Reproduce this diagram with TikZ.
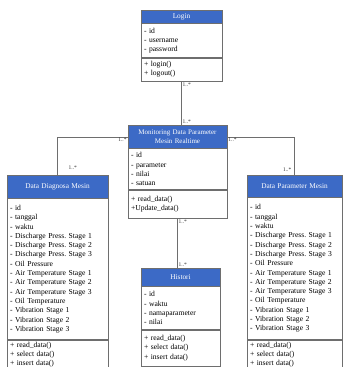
\documentclass[tikz,border=0pt]{standalone}
\usepackage{fontspec}
\setmainfont{Liberation Serif}
\usetikzlibrary{positioning}
\definecolor{umlblue}{RGB}{60,106,198}
\definecolor{boxline}{RGB}{110,110,110}

\begin{document}
\frenchspacing
\begin{tikzpicture}[x=1pt,y=-1pt,
 classhead/.style={draw=boxline, fill=umlblue, text=white, align=center, inner xsep=3pt, inner ysep=1pt, anchor=north, font=\fontsize{7.3}{8.5}\selectfont},
 classbody/.style={draw=boxline, fill=white, align=left, inner xsep=3pt, inner ysep=2pt, font=\fontsize{7.6}{9.3}\selectfont},
 mult/.style={font=\fontsize{5.5}{6}\selectfont, inner sep=1pt, text=black!80}]
 \useasboundingbox (0,0) rectangle (343,367);

 % Login
 \node[classhead, text width=75pt, minimum height=13pt] (loginh) at (181.5,10) {Login};
 \node[classbody, text width=75pt, minimum height=34pt, below=0pt of loginh] (logina) {- id\\- username\\- password};
 \node[classbody, text width=75pt, minimum height=23pt, below=0pt of logina] (loginm) {+ login()\\+ logout()};

 % Monitoring
 \node[classhead, text width=93pt, minimum height=23pt, font=\fontsize{7}{8.5}\selectfont] (monh) at (177.5,125) {Monitoring Data Parameter\\Mesin Realtime};
 \node[classbody, text width=93pt, minimum height=41pt, below=0pt of monh] (mona) {- id\\- parameter\\- nilai\\- satuan};
 \node[classbody, text width=93pt, minimum height=28pt, below=0pt of mona] (monm) {+ read\_data()\\+Update\_data()};

 % Data Diagnosa Mesin
 \node[classhead, text width=95pt, minimum height=23pt] (diagh) at (57.5,175) {Data Diagnosa Mesin};
 \node[classbody, text width=95pt, minimum height=141pt, below=0pt of diagh] (diaga) {- id\\- tanggal\\- waktu\\- Discharge Press. Stage 1\\- Discharge Press. Stage 2\\- Discharge Press. Stage 3\\- Oil Pressure\\- Air Temperature Stage 1\\- Air Temperature Stage 2\\- Air Temperature Stage 3\\- Oil Temperature\\- Vibration Stage 1\\- Vibration Stage 2\\- Vibration Stage 3};
 \node[classbody, text width=95pt, minimum height=27pt, below=0pt of diaga] (diagm) {+ read\_data()\\+ select data()\\+ insert data()};

 % Data Parameter Mesin
 \node[classhead, text width=89pt, minimum height=22pt] (paramh) at (294.5,175) {Data Parameter Mesin};
 \node[classbody, text width=89pt, minimum height=142pt, below=0pt of paramh] (parama) {- id\\- tanggal\\- waktu\\- Discharge Press. Stage 1\\- Discharge Press. Stage 2\\- Discharge Press. Stage 3\\- Oil Pressure\\- Air Temperature Stage 1\\- Air Temperature Stage 2\\- Air Temperature Stage 3\\- Oil Temperature\\- Vibration Stage 1\\- Vibration Stage 2\\- Vibration Stage 3};
 \node[classbody, text width=89pt, minimum height=27pt, below=0pt of parama] (paramm) {+ read\_data()\\+ select data()\\+ insert data()};

 % Histori
 \node[classhead, text width=73pt, minimum height=18pt] (histh) at (180.5,268) {Histori};
 \node[classbody, text width=73pt, minimum height=43pt, below=0pt of histh] (hista) {- id\\- waktu\\- namaparameter\\- nilai};
 \node[classbody, text width=73pt, minimum height=36pt, below=0pt of hista] (histm) {+ read\_data()\\+ select data()\\+ insert data()};

 % connectors
 \draw[boxline] (loginm.south) -- (loginm.south |- monh.north);
 \draw[boxline] (monh.west) -| (diagh.north);
 \draw[boxline] (monh.east) -| (paramh.north);
 \draw[boxline] (monm.south) -- (monm.south |- histh.north);

 \node[mult, below right] (m1) at (loginm.south) {1..*};
 \node[mult, above right] (m2) at (loginm.south |- monh.north) {1..*};
 \node[mult, below left] (m3) at (monh.west) {1..*};
 \node[mult, above right=4pt and 10pt of diagh.north] (m4) {1..*};
 \node[mult, below right] (m5) at (monh.east) {1..*};
 \node[mult, above left=2pt and 2pt of paramh.north] (m6) {1..*};
 \node[mult, below right] (m7) at (monm.south) {1..*};
 \node[mult, above right] (m8) at (monm.south |- histh.north) {1..*};
\end{tikzpicture}
\end{document}
